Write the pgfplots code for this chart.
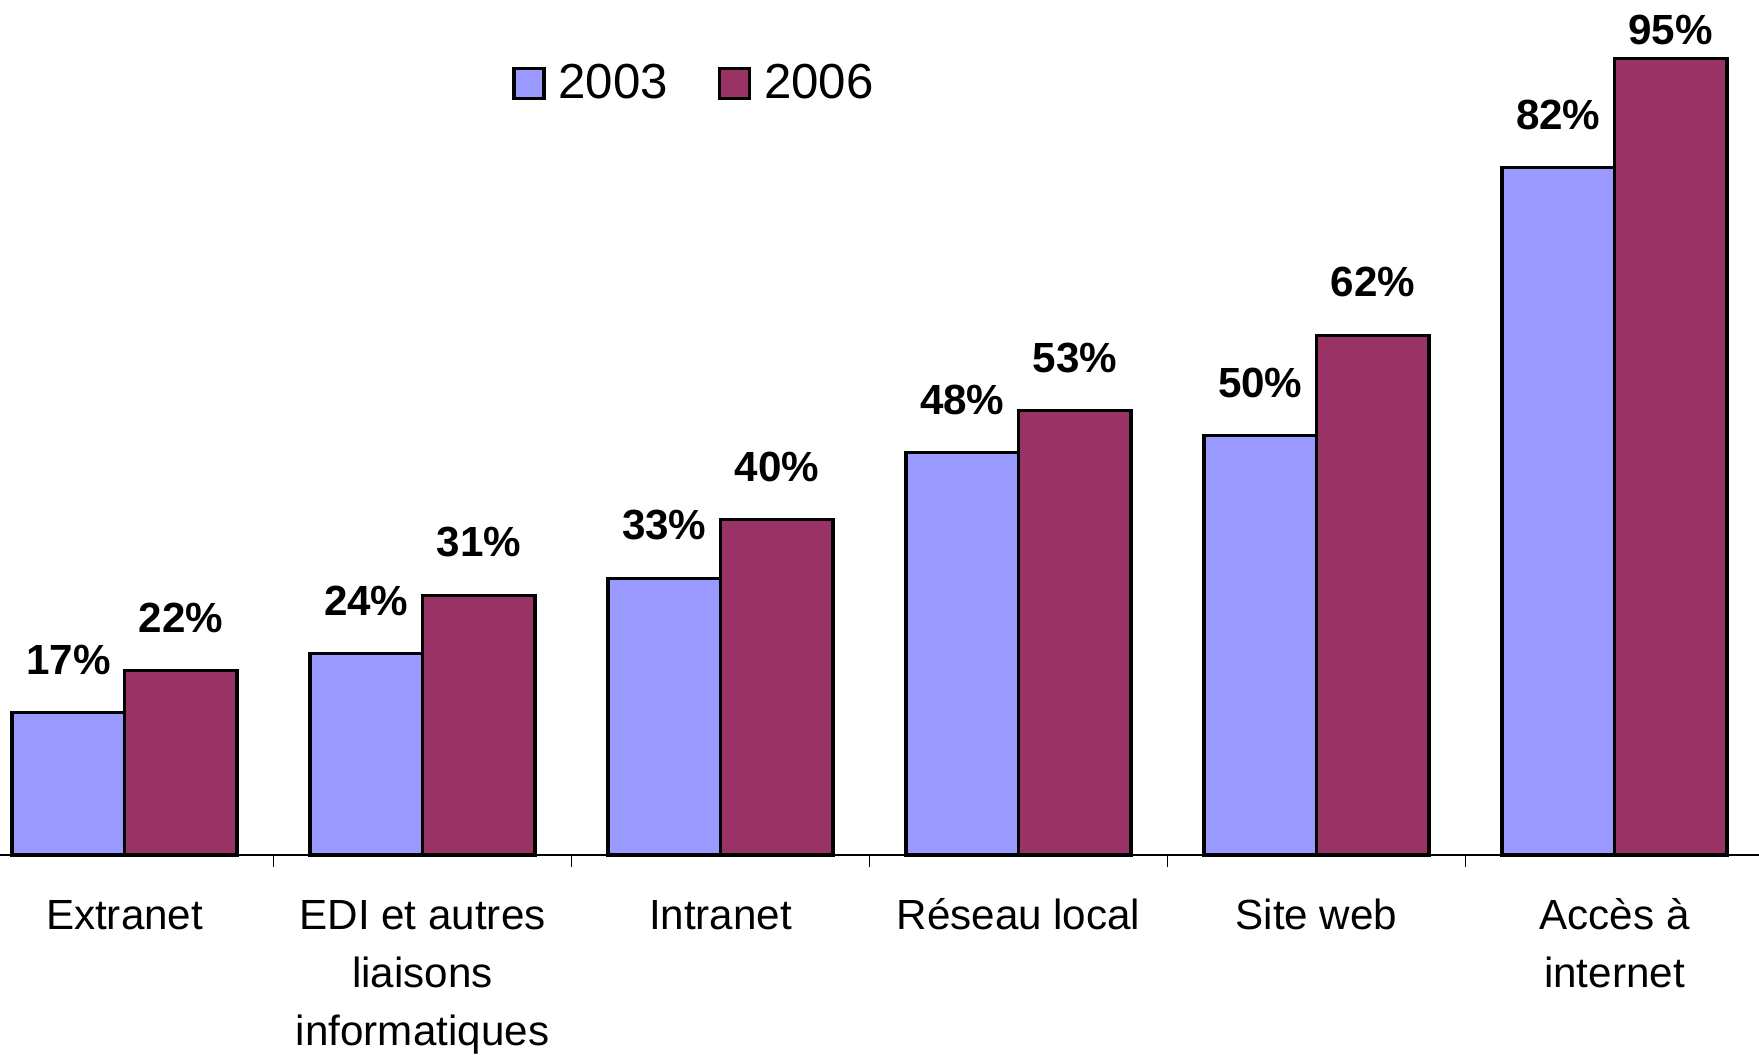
\documentclass[border=0pt]{standalone}
\usepackage{fontspec}
\setmainfont{Liberation Sans}
\usepackage{pgfplots}
\usepackage{pgfplotstable}
\pgfplotsset{compat=1.18}
\definecolor{cA}{HTML}{9999FF}
\definecolor{cB}{HTML}{993366}
\pgfplotstableread{
x y off
0 17 5.3
1 24 5.3
2 33 5.3
3 48 5.3
4 50 5.3
5 82 5.3
}\tA
\pgfplotstableread{
x y off
0 22 5.3
1 31 5.3
2 40 5.3
3 53 5.3
4 62 5.3
5 95 2.9
}\tB
\begin{document}
\begin{tikzpicture}
\begin{axis}[name=ax, scale only axis, width=17.59cm, height=8.55cm,
  xmin=-0.418, xmax=5.485, ymin=0, ymax=102, clip=false,
  ybar=0pt, bar width=11.25mm,
  /pgf/number format/assume math mode=true,
  axis x line=bottom, axis y line=none, axis line style={-, line width=0.4pt},
  xtick={0,...,5},
  xticklabels={Extranet,{EDI et autres\\liaisons\\informatiques},Intranet,Réseau local,Site web,{Accès à\\internet}},
  typeset ticklabels with strut,
  xticklabel style={align=center, font=\fontsize{12}{16.5}\selectfont, anchor=north, yshift=-2.1mm},
  major tick length=0pt,
  minor xtick={0.5,1.5,2.5,3.5,4.5}, minor tick length=1.2mm, xtick align=outside,
  every minor tick/.append style={line width=0.4pt, black},
  nodes near coords={\pgfmathprintnumber{\pgfplotspointmeta}\%},
  visualization depends on={\thisrow{off} \as \off},
  every node near coord/.append style={anchor=center, yshift=\off mm, font=\fontsize{12}{14}\selectfont\bfseries, black},
  legend style={at={(0.396,0.902)}, anchor=center, draw=none, fill=none, legend columns=2,
    font=\fontsize{14}{16}\selectfont,
    /tikz/every odd column/.append style={column sep=0.6mm},
    /tikz/every even column/.append style={column sep=4.3mm}},
  legend image code/.code={\draw[#1] (0mm,-1.5mm) rectangle (3mm,1.5mm);},
]
\addplot[fill=cA, draw=black, line width=0.9pt] table[x=x,y=y] {\tA};
\addplot[fill=cB, draw=black, line width=0.9pt] table[x=x,y=y] {\tB};
\legend{2003,2006}
\end{axis}
\pgfresetboundingbox
\path[use as bounding box] ([yshift=-19.9mm]ax.south west) rectangle (ax.north east);
\end{tikzpicture}
\end{document}
